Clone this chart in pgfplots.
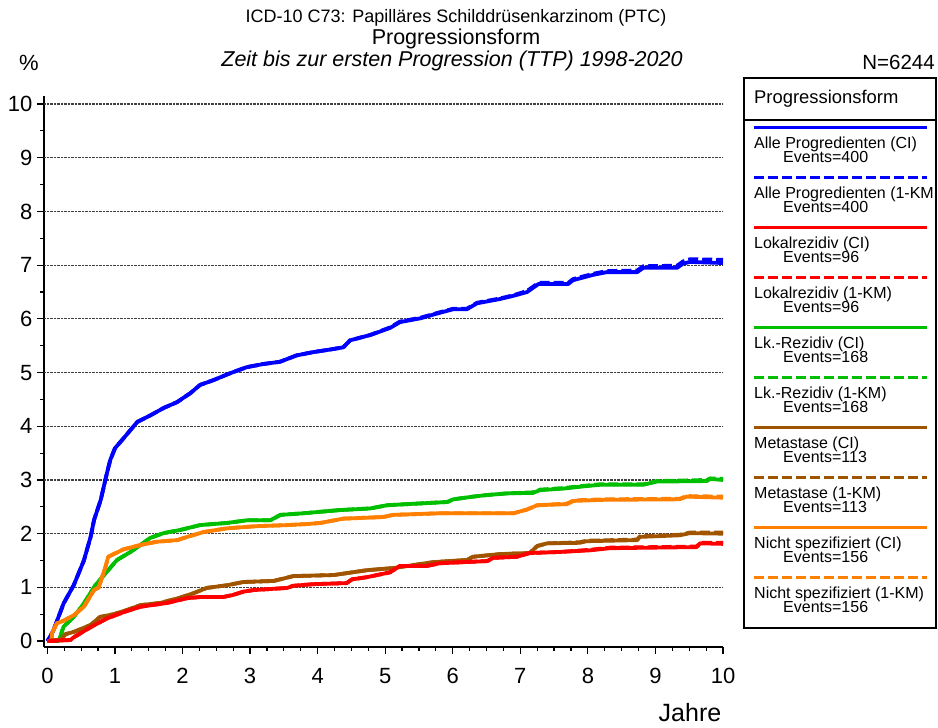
\documentclass[border=0pt]{standalone}
\usepackage{fontspec}
\setmainfont{Liberation Sans}
\usepackage{pgfplots}
\usepackage{pgfplotstable}
\pgfplotsset{compat=1.18}
\definecolor{cblue}{RGB}{0,0,255}
\definecolor{cred}{RGB}{255,0,0}
\definecolor{cgreen}{RGB}{0,190,0}
\definecolor{cbrown}{RGB}{160,84,0}
\definecolor{corange}{RGB}{255,128,0}
\tikzset{kmdash/.style={dash pattern=on 10pt off 4pt}}

\pgfplotstableread{
t ci km
0 0 0
0.05 0.1 0.1
0.09 0.2 0.2
0.24 0.7 0.7
0.39 1.04 1.04
0.54 1.5 1.5
0.64 1.94 1.94
0.69 2.25 2.25
0.79 2.63 2.63
0.88 3.12 3.12
0.93 3.37 3.37
1.0 3.59 3.59
1.13 3.78 3.78
1.23 3.93 3.93
1.33 4.08 4.08
1.52 4.2 4.2
1.72 4.34 4.34
1.92 4.45 4.45
2.12 4.62 4.62
2.26 4.77 4.77
2.46 4.86 4.86
2.71 4.99 4.99
2.95 5.1 5.1
3.2 5.16 5.16
3.44 5.2 5.2
3.69 5.32 5.32
3.93 5.38 5.38
4.19 5.43 5.43
4.38 5.47 5.47
4.48 5.6 5.6
4.78 5.7 5.7
5.07 5.83 5.84
5.22 5.94 5.95
5.52 6.01 6.02
5.77 6.1 6.11
6.01 6.18 6.19
6.21 6.18 6.19
6.36 6.29 6.3
6.7 6.37 6.38
6.9 6.43 6.44
7.1 6.5 6.52
7.27 6.65 6.67
7.71 6.65 6.67
7.78 6.72 6.74
8.08 6.82 6.84
8.28 6.87 6.89
8.73 6.87 6.9
8.82 6.95 6.98
9.32 6.95 6.99
9.41 7.03 7.07
9.51 7.06 7.11
10 7.04 7.1
}\alle

\pgfplotstableread{
t ci km
0 0 0
0.34 0.02 0.02
0.39 0.07 0.07
0.64 0.26 0.26
0.88 0.42 0.42
1.13 0.54 0.54
1.38 0.64 0.64
1.77 0.71 0.71
2.07 0.8 0.8
2.26 0.82 0.82
2.6 0.82 0.82
2.75 0.86 0.86
2.9 0.92 0.92
3.05 0.95 0.95
3.55 0.99 0.99
3.64 1.03 1.03
3.94 1.06 1.06
4.43 1.08 1.08
4.51 1.15 1.15
4.73 1.19 1.19
5.07 1.28 1.28
5.22 1.4 1.4
5.62 1.4 1.4
5.81 1.45 1.45
6.51 1.49 1.49
6.6 1.55 1.55
6.95 1.57 1.57
7.14 1.64 1.64
7.59 1.66 1.66
8.03 1.69 1.7
8.33 1.73 1.74
9.61 1.75 1.76
9.66 1.82 1.83
10 1.81 1.83
}\lokal

\pgfplotstableread{
t ci km
0 0 0
0.17 0 0
0.24 0.27 0.27
0.39 0.45 0.45
0.54 0.7 0.7
0.71 1.04 1.04
0.88 1.29 1.29
1.03 1.51 1.51
1.23 1.66 1.66
1.38 1.79 1.79
1.52 1.92 1.92
1.72 2.01 2.01
1.97 2.07 2.07
2.26 2.16 2.16
2.66 2.2 2.2
2.96 2.25 2.25
3.3 2.25 2.25
3.45 2.35 2.35
3.79 2.38 2.38
4.33 2.44 2.44
4.78 2.47 2.47
5.03 2.53 2.53
5.47 2.56 2.56
5.92 2.59 2.59
6.01 2.64 2.64
6.3 2.69 2.69
6.51 2.72 2.72
6.8 2.75 2.75
7.19 2.76 2.77
7.29 2.81 2.82
7.64 2.84 2.85
7.93 2.88 2.89
8.18 2.91 2.92
8.82 2.91 2.92
9.02 2.97 2.98
9.76 2.98 3.0
9.81 3.02 3.03
10 3.0 3.02
}\lk

\pgfplotstableread{
t ci km
0 0 0
0.2 0.03 0.03
0.27 0.13 0.13
0.39 0.17 0.17
0.64 0.3 0.3
0.78 0.45 0.45
0.98 0.5 0.5
1.18 0.58 0.58
1.38 0.67 0.67
1.67 0.71 0.71
1.97 0.81 0.81
2.16 0.89 0.89
2.36 0.99 0.99
2.66 1.04 1.04
2.9 1.1 1.1
3.35 1.12 1.12
3.64 1.21 1.21
4.24 1.23 1.23
4.73 1.32 1.32
5.12 1.36 1.36
5.71 1.47 1.47
6.21 1.51 1.51
6.3 1.57 1.57
6.7 1.62 1.62
7.14 1.64 1.64
7.25 1.77 1.77
7.4 1.82 1.82
7.88 1.83 1.84
7.98 1.86 1.87
8.73 1.88 1.89
8.77 1.94 1.95
9.36 1.97 1.98
9.51 2.01 2.02
10 2.0 2.02
}\meta

\pgfplotstableread{
t ci km
0 0 0
0.06 0 0
0.07 0.15 0.15
0.14 0.33 0.33
0.24 0.38 0.38
0.39 0.48 0.48
0.54 0.64 0.64
0.69 0.95 0.95
0.76 1.0 1.0
0.86 1.38 1.38
0.9 1.57 1.57
1.13 1.71 1.71
1.38 1.79 1.79
1.62 1.85 1.85
1.92 1.88 1.88
2.07 1.94 1.94
2.31 2.03 2.03
2.66 2.1 2.1
3.1 2.14 2.14
3.55 2.16 2.16
3.85 2.18 2.18
4.04 2.2 2.2
4.38 2.28 2.28
4.97 2.31 2.31
5.12 2.35 2.35
5.81 2.38 2.38
6.9 2.38 2.38
7.1 2.45 2.45
7.25 2.53 2.53
7.69 2.55 2.56
7.79 2.61 2.62
8.23 2.63 2.64
9.36 2.64 2.65
9.46 2.69 2.7
10 2.67 2.69
}\nicht

\begin{document}
\begin{tikzpicture}
\path[use as bounding box] (0pt,0pt) rectangle (938pt,728pt);
\begin{axis}[
  at={(44pt,81pt)}, anchor=south west,
  scale only axis, width=679pt, height=551pt,
  xmin=-0.05, xmax=10, ymin=-0.11, ymax=10.15,
  axis x line*=bottom, axis y line*=left,
  axis line style={line width=1.2pt,-},
  every outer x axis line/.append style={-},
  every outer y axis line/.append style={-},
  xtick={0,...,10}, ytick={0,...,10},
  minor x tick num=3, minor y tick num=1,
  tick align=outside,
  major tick length=7pt, minor tick length=4pt,
  tick style={black, line width=1.2pt},
  ticklabel style={font=\fontsize{22}{24}\selectfont},
  xticklabel style={yshift=-11pt},
  yticklabel style={xshift=-1pt},
  /pgf/number format/assume math mode=true,
  extra y ticks={1,2,3,4,5,6,7,8,9,10},
  extra y tick labels={},
  extra y tick style={grid=major, tick style={draw=none}},
  major grid style={densely dotted, black!75, line width=1.1pt},
  every axis plot/.append style={line width=3.8pt, line join=round},
]
\addplot[cblue, kmdash] table[x=t,y=km] {\alle};
\addplot[cblue] table[x=t,y=ci] {\alle};
\addplot[cgreen, kmdash] table[x=t,y=km] {\lk};
\addplot[cgreen] table[x=t,y=ci] {\lk};
\addplot[corange, kmdash] table[x=t,y=km] {\nicht};
\addplot[corange] table[x=t,y=ci] {\nicht};
\addplot[cbrown, kmdash] table[x=t,y=km] {\meta};
\addplot[cbrown] table[x=t,y=ci] {\meta};
\addplot[cred, kmdash] table[x=t,y=km] {\lokal};
\addplot[cred] table[x=t,y=ci] {\lokal};
\end{axis}

\begin{scope}[x=1pt, y=-1pt, shift={(0pt,728pt)}]
% titles
\node[font=\fontsize{18}{20}\selectfont] at (456,18) {ICD-10 C73: Papilläres Schilddrüsenkarzinom (PTC)};
\node[font=\fontsize{21.5}{23}\selectfont] at (456,39) {Progressionsform};
\node[font=\fontsize{21.5}{23}\selectfont\itshape] at (452,61) {Zeit bis zur ersten Progression (TTP) 1998-2020};
\node[font=\fontsize{22}{24}\selectfont] at (29,63) {\%};
\node[font=\fontsize{20.5}{22}\selectfont, anchor=east, inner sep=0pt] at (935,62) {N=6244};
\node[font=\fontsize{25}{27}\selectfont] at (690,713) {Jahre};

% legend
\draw[line width=1.6pt] (744,78) rectangle (936,628);
\draw[line width=1.1pt] (744,120) -- (936,120);
\node[anchor=base west, inner sep=0pt, font=\fontsize{18.4}{20}\selectfont] at (754,104) {Progressionsform};
\foreach \k/\col/\sty/\txt/\ev in {
  0/cblue/solid/{Alle Progredienten (CI)}/400,
  1/cblue/kmdash/{Alle Progredienten (1-KM}/400,
  2/cred/solid/{Lokalrezidiv (CI)}/96,
  3/cred/kmdash/{Lokalrezidiv (1-KM)}/96,
  4/cgreen/solid/{Lk.-Rezidiv (CI)}/168,
  5/cgreen/kmdash/{Lk.-Rezidiv (1-KM)}/168,
  6/cbrown/solid/{Metastase (CI)}/113,
  7/cbrown/kmdash/{Metastase (1-KM)}/113,
  8/corange/solid/{Nicht spezifiziert (CI)}/156,
  9/corange/kmdash/{Nicht spezifiziert (1-KM)}/156}{
  \pgfmathsetmacro\yy{128+50*\k}
  \draw[\col, line width=3pt, \sty] (754,\yy) -- (927,\yy);
  \node[anchor=base west, inner sep=0pt, font=\fontsize{16}{17}\selectfont] at (754,\yy+20.5) {\txt};
  \node[anchor=base west, inner sep=0pt, font=\fontsize{16}{17}\selectfont] at (783,\yy+35) {Events=\ev};
}
\end{scope}
\end{tikzpicture}
\end{document}
